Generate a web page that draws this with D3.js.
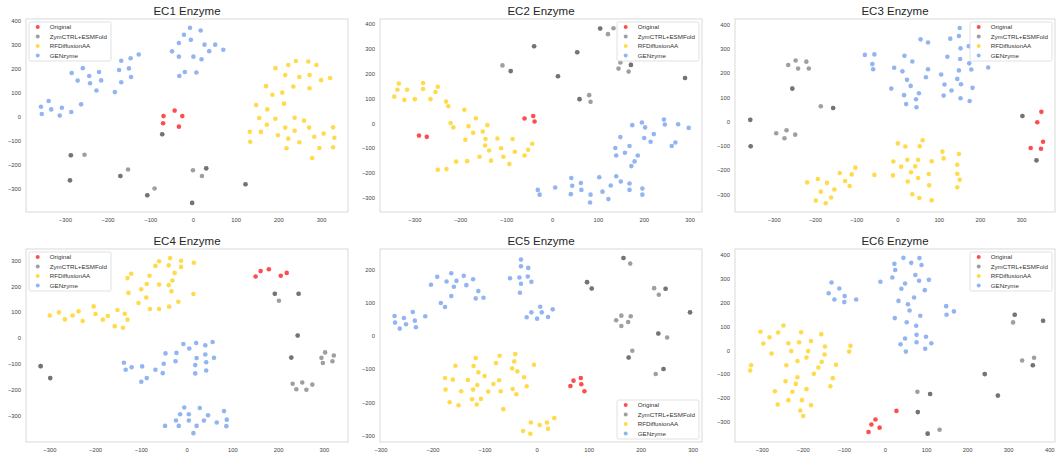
<!DOCTYPE html>
<html>
<head>
<meta charset="utf-8">
<script src="https://cdn.jsdelivr.net/npm/d3@7"></script>
<style>
  body { margin: 0; background: #fff; }
  svg { display: block; font-family: "Liberation Sans", Arial, sans-serif; }
</style>
</head>
<body>
<svg id="chart" width="1058" height="457"></svg>
<script>
// groups shown in every panel, legend order
const groups = ["Original", "ZymCTRL+ESMFold", "RFDiffusionAA", "GENzyme"];
const groupColors = ["#ff0000", "#505050", "#ffcc00", "#6495ed"];
const panelTitles = ["EC1 Enzyme", "EC2 Enzyme", "EC3 Enzyme", "EC4 Enzyme", "EC5 Enzyme", "EC6 Enzyme"];

// tick labels
const xTicks = [-300, -200, -100, 0, 100, 200, 300];
const xTicksEC6 = [-300, -200, -100, 0, 100, 200, 300, 400];
const yTicks = [-300, -200, -100, 0, 100, 200, 300, 400];
const yTicksEC4 = [-300, -200, -100, 0, 100, 200, 300];
const yTicksEC5 = [-300, -200, -100, 0, 100, 200];

// ---- EC1 ----  (darker grey dots are two overlapping points)
const ec1Original = [[-69, 1], [-43, 24], [-25, 1], [-70, -29], [-33, -43]];
const ec1Zym = [[-72, -75], [-72, -75], [-286, -162], [-286, -162], [-254, -160], [-288, -267], [-288, -267],
  [-170, -249], [-170, -249], [-152, -222], [-90, -301], [-107, -329], [-107, -329], [0, -225],
  [-2, -361], [-2, -361], [21, -249], [31, -217], [31, -217], [123, -283], [123, -283]];
const ec1Rfd = [[193, 201], [223, 214], [241, 231], [270, 229], [289, 214], [216, 172], [249, 164], [273, 172],
  [300, 151], [321, 160], [171, 126], [235, 124], [273, 117], [186, 90], [209, 99], [148, 47], [174, 29],
  [213, 53], [155, -7], [193, -10], [238, -6], [260, -18], [173, -35], [216, -47], [238, -60], [272, -47],
  [328, -46], [133, -64], [159, -65], [199, -79], [223, -93], [306, -72], [331, -89], [134, -106],
  [249, -108], [284, -85], [219, -133], [296, -132], [328, -129], [279, -174]];
const ec1Gen = [[-356, 40], [-354, 10], [-338, 64], [-332, 29], [-312, 3], [-307, 36], [-285, 18], [-284, 181],
  [-270, 149], [-258, 201], [-262, 50], [-243, 168], [-241, 138], [-226, 108], [-220, 185], [-215, 150],
  [-183, 101], [-173, 193], [-168, 232], [-168, 142], [-150, 200], [-146, 242], [-145, 164], [-127, 258],
  [-49, 271], [-33, 306], [-33, 249], [-32, 168], [-21, 340], [-19, 185], [-7, 369], [-5, 319], [1, 249],
  [8, 183], [18, 358], [20, 238], [27, 299], [38, 272], [52, 299], [71, 278]];

// ---- EC2 ----
const ec2Original = [[-290, -50], [-273, -55], [-60, 19], [-41, 29], [-38, 7]];
const ec2Zym = [[-39, 310], [-39, 310], [-108, 233], [-90, 210], [-90, 210], [55, 286], [55, 286], [13, 189],
  [13, 189], [105, 382], [105, 382], [134, 383], [122, 359], [149, 245], [145, 220], [167, 208],
  [172, 235], [172, 235], [290, 182], [290, 182], [81, 113], [84, 86], [60, 97], [60, 97]];
const ec2Rfd = [[-344, 107], [-337, 135], [-334, 160], [-322, 94], [-316, 135], [-299, 97], [-281, 162],
  [-281, 138], [-265, 97], [-254, 126], [-249, 147], [-231, 87], [-226, 68], [-221, 1], [-215, -17],
  [-191, 54], [-189, -67], [-182, -12], [-172, -39], [-166, 20], [-151, -34], [-145, -64], [-146, -90],
  [-141, -8], [-137, -110], [-119, -62], [-111, -101], [-106, -135], [-86, -64], [-81, -115], [-93, -165],
  [-133, -151], [-158, -135], [-185, -153], [-209, -155], [-230, -185], [-249, -188], [-60, -130],
  [-52, -107], [-43, -83]];
const ec2Gen = [[175, -8], [196, 3], [203, -17], [244, 15], [246, -5], [275, -4], [298, -19], [222, -44],
  [201, -60], [215, -75], [149, -56], [138, -100], [140, -130], [169, -92], [159, -119], [187, -130],
  [180, -154], [173, -173], [261, -92], [269, -78], [-31, -269], [-27, -288], [7, -259], [42, -221],
  [44, -252], [41, -286], [63, -241], [64, -269], [84, -288], [83, -320], [103, -218], [110, -276],
  [123, -306], [128, -251], [140, -214], [150, -235], [169, -243], [169, -269], [197, -263], [197, -288]];

// ---- EC3 ----
const ec3Original = [[349, 40], [339, -3], [353, -83], [323, -109], [348, -112]];
const ec3Zym = [[303, 23], [303, 23], [337, -160], [337, -160], [-357, 7], [-357, 7], [-356, -102], [-356, -102],
  [-294, -48], [-269, -36], [-274, -69], [-248, -54], [-265, 233], [-247, 252], [-241, 219], [-221, 247],
  [-215, 219], [-255, 136], [-255, 136], [-186, 63], [-156, 56], [-156, 56]];
const ec3Rfd = [[-219, -251], [-193, -237], [-186, -289], [-198, -326], [-174, -337], [-171, -253],
  [-161, -313], [-153, -280], [-140, -212], [-127, -245], [-116, -266], [-111, -218], [-102, -190],
  [-56, -220], [-11, -222], [-10, -165], [1, -90], [9, -186], [19, -103], [24, -158], [25, -247],
  [33, -209], [36, -300], [43, -185], [50, -158], [50, -233], [53, -315], [54, -102], [61, -77],
  [76, -216], [77, -263], [83, -164], [83, -325], [109, -124], [112, -152], [145, -178], [145, -215],
  [149, -134], [151, -240], [145, -271]];
const ec3Gen = [[-79, 275], [-61, 237], [-59, 216], [-56, 277], [-15, 136], [-8, 222], [12, 207], [17, 271],
  [16, 109], [21, 72], [23, 172], [32, 147], [36, 248], [45, 92], [46, 59], [52, 117], [56, 339], [69, 183],
  [74, 216], [74, 326], [106, 194], [112, 107], [114, 153], [121, 267], [128, 342], [131, 128], [145, 176],
  [149, 211], [152, 258], [151, 386], [149, 353], [153, 302], [154, 154], [153, 96], [173, 311], [174, 240],
  [179, 215], [182, 139], [175, 85], [220, 223]];

// ---- EC4 ----
const ec4Original = [[151, 237], [162, 258], [180, 265], [206, 240], [219, 251]];
const ec4Zym = [[193, 171], [193, 171], [202, 144], [245, 171], [245, 171], [243, 10], [243, 10], [229, -75],
  [229, -75], [-319, -108], [-319, -108], [-298, -154], [-298, -154], [303, -55], [295, -76], [322, -67],
  [298, -96], [319, -89], [232, -176], [240, -197], [253, -171], [262, -199], [275, -179]];
const ec4Rfd = [[-299, 87], [-279, 99], [-266, 72], [-249, 87], [-236, 103], [-227, 66], [-203, 122],
  [-199, 93], [-183, 71], [-172, 85], [-157, 46], [-151, 108], [-139, 40], [-135, 94], [-129, 71],
  [-127, 174], [-129, 231], [-121, 248], [-105, 135], [-99, 188], [-88, 156], [-87, 208], [-81, 240],
  [-80, 112], [-68, 278], [-60, 112], [-60, 296], [-60, 206], [-39, 280], [-38, 121], [-39, 204],
  [-36, 308], [-33, 180], [-31, 222], [-26, 251], [-18, 140], [-12, 298], [-12, 274], [16, 290], [15, 170]];
const ec4Gen = [[-137, -95], [-133, -122], [-120, -112], [-97, -109], [-99, -168], [-87, -154], [-68, -122],
  [-52, -135], [-50, -99], [-46, -59], [-24, -89], [-22, -57], [-7, -23], [6, -40], [21, -19], [22, -77],
  [19, -104], [19, -136], [41, -28], [41, -63], [43, -93], [43, -125], [57, -15], [60, -76], [-5, -267],
  [-14, -293], [-23, -317], [-47, -338], [-17, -338], [5, -293], [5, -317], [15, -366], [22, -338],
  [29, -269], [38, -317], [47, -297], [66, -325], [82, -281], [88, -314], [87, -339]];

// ---- EC5 ----
const ec5Original = [[65, -151], [71, -135], [85, -127], [86, -146], [92, -167]];
const ec5Zym = [[167, 235], [167, 235], [180, 218], [97, 162], [97, 162], [106, 143], [106, 143], [226, 144],
  [248, 142], [248, 142], [235, 124], [295, 71], [295, 71], [153, 47], [163, 61], [163, 30], [176, 42],
  [181, 59], [234, 7], [234, 7], [251, -5], [184, -45], [177, -65], [177, -65], [229, -115],
  [244, -100], [244, -100]];
const ec5Rfd = [[-176, -127], [-175, -162], [-167, -200], [-161, -132], [-156, -90], [-150, -209],
  [-145, -167], [-132, -133], [-124, -191], [-122, -162], [-121, -91], [-117, -67], [-115, -207],
  [-114, -148], [-112, -110], [-107, -190], [-100, -121], [-93, -168], [-83, -145], [-78, -82],
  [-72, -134], [-71, -60], [-69, -167], [-64, -221], [-47, -98], [-46, -160], [-43, -77], [-41, -55],
  [-39, -176], [-37, -107], [-24, -125], [-19, -152], [-5, -87], [-26, -287], [-12, -295], [-11, -261],
  [6, -269], [20, -261], [22, -280], [34, -248]];
const ec5Gen = [[-273, 60], [-272, 40], [-263, 22], [-255, 54], [-251, 35], [-238, 72], [-234, 46],
  [-232, 26], [-214, 59], [-203, 154], [-191, 178], [-184, 99], [-176, 87], [-173, 164], [-164, 189],
  [-164, 120], [-159, 148], [-154, 166], [-140, 181], [-135, 153], [-122, 171], [-117, 113], [-112, 135],
  [-102, 115], [-51, 174], [-33, 176], [-32, 130], [-30, 157], [-30, 210], [-30, 230], [-16, 205],
  [-17, 179], [-10, 163], [-19, 56], [-10, 71], [1, 52], [7, 88], [10, 71], [22, 57], [31, 80]];

// ---- EC6 ----
const ec6Original = [[-40, -342], [-33, -311], [-23, -290], [-13, -324], [28, -254]];
const ec6Zym = [[79, -174], [110, -183], [110, -183], [80, -259], [80, -259], [104, -349], [104, -349],
  [133, -333], [243, -100], [243, -100], [275, -190], [275, -190], [316, 148], [316, 148], [312, 116],
  [385, 123], [385, 123], [334, -43], [363, -32], [360, -63], [360, -63]];
const ec6Rfd = [[-328, -85], [-326, -63], [-303, 77], [-296, 28], [-281, 54], [-276, -14], [-268, -172],
  [-260, 74], [-261, -227], [-247, 103], [-242, -130], [-240, -63], [-235, 29], [-235, -209], [-228, -4],
  [-225, -174], [-217, -141], [-213, -45], [-213, -113], [-209, 33], [-206, -252], [-204, 75],
  [-202, -209], [-199, -275], [-191, -31], [-187, -4], [-191, -163], [-180, 38], [-180, -230],
  [-173, -99], [-162, -73], [-155, 67], [-154, -49], [-147, -18], [-146, 15], [-133, -151], [-127, -117],
  [-119, -61], [-84, 18], [-87, -6]];
const ec6Gen = [[-137, 238], [-130, 283], [-123, 212], [-111, 258], [-98, 226], [-99, 201], [-70, 212],
  [-11, 286], [18, 304], [23, 361], [25, 335], [24, 134], [33, 206], [40, 257], [45, 386], [49, 279],
  [56, 192], [60, 166], [53, 117], [38, 25], [49, 49], [51, -6], [64, 365], [71, 220], [74, 314], [76, 102],
  [77, 64], [77, 33], [83, 290], [84, 385], [86, 144], [89, 356], [97, 251], [100, 56], [98, 6], [107, 294],
  [113, 29], [149, 184], [150, 148], [168, 162]];

// panel layout
const panels = [
  { title: panelTitles[0], series: [ec1Original, ec1Zym, ec1Rfd, ec1Gen], x0: 26, x1: 348, y0: 19, y1: 212,
    xDomain: [-391, 363], yDomain: [-399, 406], xt: xTicks, yt: yTicks, legend: "ul" },
  { title: panelTitles[1], series: [ec2Original, ec2Zym, ec2Rfd, ec2Gen], x0: 380, x1: 702, y0: 19, y1: 212,
    xDomain: [-375, 327], yDomain: [-358, 420], xt: xTicks, yt: yTicks, legend: "ur" },
  { title: panelTitles[2], series: [ec3Original, ec3Zym, ec3Rfd, ec3Gen], x0: 735, x1: 1055, y0: 19, y1: 212,
    xDomain: [-394, 382], yDomain: [-373, 423], xt: xTicks, yt: yTicks, legend: "ur" },
  { title: panelTitles[3], series: [ec4Original, ec4Zym, ec4Rfd, ec4Gen], x0: 26, x1: 348, y0: 249, y1: 442,
    xDomain: [-351, 353], yDomain: [-400, 343], xt: xTicks, yt: yTicksEC4, legend: "ul" },
  { title: panelTitles[4], series: [ec5Original, ec5Zym, ec5Rfd, ec5Gen], x0: 380, x1: 702, y0: 249, y1: 442,
    xDomain: [-301, 318], yDomain: [-320, 262], xt: xTicks, yt: yTicksEC5, legend: "lr" },
  { title: panelTitles[5], series: [ec6Original, ec6Zym, ec6Rfd, ec6Gen], x0: 735, x1: 1055, y0: 249, y1: 442,
    xDomain: [-365, 414], yDomain: [-384, 423], xt: xTicksEC6, yt: yTicks, legend: "ur" }
];

const svg = d3.select("#chart");
const fmt = d3.format("d");

panels.forEach(p => {
  const g = svg.append("g");

  const x = d3.scaleLinear().domain(p.xDomain).range([p.x0, p.x1]);
  const y = d3.scaleLinear().domain(p.yDomain).range([p.y1, p.y0]);

  // frame
  g.append("rect")
    .attr("x", p.x0).attr("y", p.y0)
    .attr("width", p.x1 - p.x0).attr("height", p.y1 - p.y0)
    .attr("fill", "none").attr("stroke", "#d9d9d9").attr("stroke-width", 1);

  // axes, no tick marks
  const xa = g.append("g")
    .attr("transform", "translate(0," + p.y1 + ")")
    .call(d3.axisBottom(x).tickValues(p.xt).tickFormat(fmt).tickSize(0).tickPadding(6));
  const ya = g.append("g")
    .attr("transform", "translate(" + p.x0 + ",0)")
    .call(d3.axisLeft(y).tickValues(p.yt).tickFormat(fmt).tickSize(0).tickPadding(5));
  [xa, ya].forEach(a => {
    a.select(".domain").remove();
    a.selectAll("text")
      .attr("font-family", '"Liberation Sans", Arial, sans-serif')
      .attr("font-size", 5.8).attr("fill", "#444");
  });

  // title
  g.append("text")
    .attr("x", (p.x0 + p.x1) / 2).attr("y", p.y0 - 3.7)
    .attr("text-anchor", "middle")
    .attr("font-size", 11.5).attr("fill", "#262626")
    .text(p.title);

  // points
  p.series.forEach((pts, i) => {
    g.append("g").selectAll("circle")
      .data(pts)
      .enter()
      .append("circle")
      .attr("cx", d => x(d[0]))
      .attr("cy", d => y(d[1]))
      .attr("r", 2.3)
      .attr("fill", groupColors[i])
      .attr("fill-opacity", i === 1 ? 0.55 : 0.7);
  });

  // legend
  const lw = 82, lh = 39;
  let lx, ly;
  if (p.legend === "ul") { lx = p.x0 + 3; ly = p.y0 + 3; }
  else if (p.legend === "ur") { lx = p.x1 - 3 - lw; ly = p.y0 + 3; }
  else { lx = p.x1 - 3 - lw; ly = p.y1 - 3 - lh; }

  const lg = g.append("g").attr("transform", "translate(" + lx + "," + ly + ")");
  lg.append("rect")
    .attr("width", lw).attr("height", lh).attr("rx", 1.5)
    .attr("fill", "#fff").attr("fill-opacity", 0.8)
    .attr("stroke", "#d9d9d9").attr("stroke-width", 0.8);

  const items = lg.selectAll("g.item")
    .data(groups)
    .enter()
    .append("g")
    .attr("class", "item")
    .attr("transform", (d, i) => "translate(0," + (5 + i * 9.5) + ")");
  items.append("circle")
    .attr("cx", 8.7).attr("cy", 0).attr("r", 2)
    .attr("fill", (d, i) => groupColors[i])
    .attr("fill-opacity", (d, i) => i === 1 ? 0.55 : 0.7);
  items.append("text")
    .attr("x", 20.7).attr("y", 0).attr("dy", "0.35em")
    .attr("font-size", 6.2).attr("fill", "#333")
    .text(d => d);
});
</script>
</body>
</html>
